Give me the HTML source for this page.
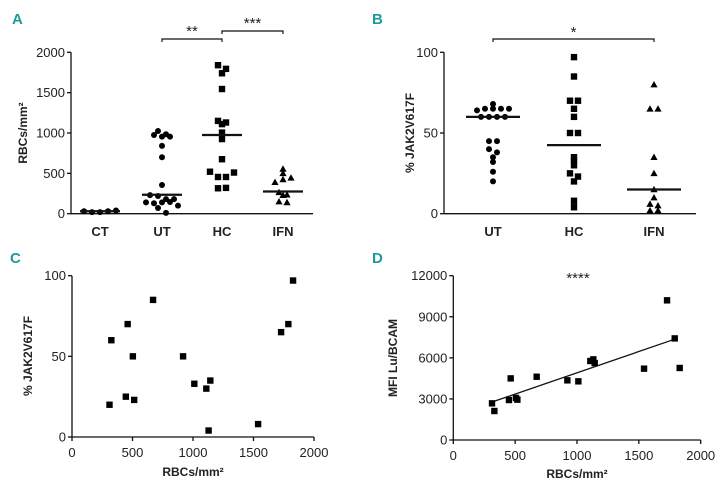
<!DOCTYPE html>
<html><head><meta charset="utf-8"><style>
html,body{margin:0;padding:0;background:#fff;}
svg{display:block;font-family:"Liberation Sans",sans-serif;}
.tick{font-size:13px;fill:#222;}
.cat{font-size:13px;font-weight:bold;fill:#222;}
.ttl{font-size:12px;font-weight:bold;fill:#222;}
.plab{font-size:15px;font-weight:bold;fill:#1f9a9a;font-family:"Liberation Sans Narrow","Liberation Sans",sans-serif;}
.star{font-size:15px;fill:#222;}
</style></head><body>
<svg id="fig" width="722" height="487" viewBox="0 0 722 487"></svg>
<script>
// Panel A data
const aCats=["CT","UT","HC","IFN"];
const aCT=[30,20,20,30,40];
const aUT=[1025,975,955,955,985,840,700,355,230,220,180,180,140,130,140,145,100,70,10];
const aHC=[1840,1795,1740,1545,1150,1110,1130,1005,925,675,520,455,455,510,315,320];
const aIFN=[555,500,390,425,445,265,235,230,150,140];
const aMeans=[30,235,975,275];
const aTicks=[0,500,1000,1500,2000];
// Panel B data
const bCats=["UT","HC","IFN"];
const bUT=[68,64,65,65,65,65,60,60,60,60,45,45,40,38,35,32,26,20];
const bHC=[97,85,70,70,65,60,50,50,35,33,30,25,23,20,8,4];
const bIFN=[80,65,65,35,25,15,10,6,5,2,2];
const bMeans=[60,42.5,15];
const bTicks=[0,50,100];
// Panel C/D data
const rbc=[310,325,445,460,503,514,670,918,1011,1110,1129,1143,1538,1728,1788,1827];
const jak=[20,60,25,70,50,23,85,50,33,30,4,35,8,65,70,97];
const dRbc=[313,332,450,464,507,518,674,922,1011,1108,1132,1143,1542,1728,1790,1830];
const dMfi=[2677,2118,2920,4500,3070,2945,4620,4357,4284,5770,5890,5620,5210,10200,7420,5260];
const xTicks=[0,500,1000,1500,2000];
const cTicks=[0,50,100];
const dTicks=[0,3000,6000,9000,12000];

const svg=document.getElementById('fig');
const NS='http://www.w3.org/2000/svg';
function mk(tag,at,parent){const e=document.createElementNS(NS,tag);for(const k in at)e.setAttribute(k,at[k]);(parent||svg).appendChild(e);return e;}
function txt(s,x,y,cls,anchor,parent){const t=mk('text',{x:x,y:y,class:cls,'text-anchor':anchor||'middle'},parent);t.textContent=s;return t;}
function lin(x1,y1,x2,y2,w,parent){return mk('line',{x1:x1,y1:y1,x2:x2,y2:y2,stroke:'#111','stroke-width':w||1.3},parent);}
function marker(shape,x,y,parent){
  if(shape==='c')return mk('circle',{cx:x,cy:y,r:3,fill:'#000'},parent);
  if(shape==='s')return mk('rect',{x:x-3.2,y:y-3.2,width:6.4,height:6.4,fill:'#000'},parent);
  return mk('polygon',{points:`${x},${y-3.6} ${x+3.6},${y+2.8} ${x-3.6},${y+2.8}`,fill:'#000'},parent);
}
function yAxis(g,x,sy,ticks,x2){
  lin(x,sy(ticks[0]),x,sy(ticks[ticks.length-1]),1.3,g);
  lin(x,sy(ticks[0]),x2,sy(ticks[0]),1.3,g);
  ticks.forEach(t=>{const y=sy(t);lin(x-4,y,x,y,1.3,g);
    const l=txt(String(t),x-6,y+4.5,'tick','end',g);
    
    });
}
function spread(vals,cx,sy,shape,g,name){
  // jitter: markers at same height spread horizontally
  const seen={};
  vals.forEach(v=>{const k=Math.round(sy(v)/6);seen[k]=(seen[k]||0)+1;});
  const cnt={};
  vals.forEach(v=>{const k=Math.round(sy(v)/6);const n=seen[k];cnt[k]=(cnt[k]||0);
    const off=(cnt[k]-(n-1)/2)*8;cnt[k]++;
    const m=marker(shape,cx+off,sy(v),g);
    
    });
}

// ---------- Panel A ----------
{
const g=mk('g',{});


const sy=v=>213.7-v*(161.4/2000);
const cx=[100,162,222,283];
const pl=txt('A',12,24,'plab','start',g);

yAxis(g,71,sy,aTicks,313);
aCats.forEach((c,i)=>{const t=txt(c,cx[i],236,'cat','middle',g);
  });
const yt=txt('RBCs/mm²',0,0,'ttl','middle',g);
yt.setAttribute('transform','translate(27,133) rotate(-90)');

spread(aCT,cx[0],sy,'c',g,'ct-point');
spread(aUT,cx[1],sy,'c',g,'ut-point');
spread(aHC,cx[2],sy,'s',g,'hc-point');
spread(aIFN,cx[3],sy,'t',g,'ifn-point');
aMeans.forEach((m,i)=>{const l=lin(cx[i]-20,sy(m),cx[i]+20,sy(m),2.2,g);
  });
// brackets
const b1=mk('path',{d:`M${cx[1]},42 V39 H${cx[2]} V42`,fill:'none',stroke:'#111','stroke-width':1.2},g);

txt('**',(cx[1]+cx[2])/2,36,'star','middle',g);
const b2=mk('path',{d:`M${cx[2]},34 V31 H${cx[3]} V34`,fill:'none',stroke:'#111','stroke-width':1.2},g);

txt('***',(cx[2]+cx[3])/2,28,'star','middle',g);
}

// ---------- Panel B ----------
{
const g=mk('g',{});


const sy=v=>213.7-v*1.614;
const cx=[493,574,654];
const pl=txt('B',372,24,'plab','start',g);

yAxis(g,444,sy,bTicks,696);
bCats.forEach((c,i)=>{const t=txt(c,cx[i],236,'cat','middle',g);
  });
const yt=txt('% JAK2V617F',0,0,'ttl','middle',g);
yt.setAttribute('transform','translate(414,133) rotate(-90)');

spread(bUT,cx[0],sy,'c',g,'ut-point');
spread(bHC,cx[1],sy,'s',g,'hc-point');
spread(bIFN,cx[2],sy,'t',g,'ifn-point');
bMeans.forEach((m,i)=>{const l=lin(cx[i]-27,sy(m),cx[i]+27,sy(m),2.2,g);
  });
const b1=mk('path',{d:`M${cx[0]},42 V39 H${cx[2]} V42`,fill:'none',stroke:'#111','stroke-width':1.2},g);

txt('*',(cx[0]+cx[2])/2,37,'star','middle',g);
}

// ---------- Panel C ----------
{
const g=mk('g',{});


const sx=v=>72+v*(242/2000);
const sy=v=>437-v*1.613;
const pl=txt('C',10,263,'plab','start',g);

yAxis(g,72,sy,cTicks,314);
xTicks.forEach(t=>{lin(sx(t),437,sx(t),441,1.3,g);
  const l=txt(String(t),sx(t),457,'tick','middle',g);
  });
const xt=txt('RBCs/mm²',193,476,'ttl','middle',g);

const yt=txt('% JAK2V617F',0,0,'ttl','middle',g);
yt.setAttribute('transform','translate(32,356) rotate(-90)');

rbc.forEach((v,i)=>{const m=marker('s',sx(v),sy(jak[i]),g);
  });
}

// ---------- Panel D ----------
{
const g=mk('g',{});


const sx=v=>453.3+v*(247.4/2000);
const sy=v=>440-v*(164.3/12000);
const pl=txt('D',372,263,'plab','start',g);

yAxis(g,453.3,sy,dTicks,700.7);
xTicks.forEach(t=>{lin(sx(t),440,sx(t),444,1.3,g);
  const l=txt(String(t),sx(t),460,'tick','middle',g);
  });
const xt=txt('RBCs/mm²',577,478,'ttl','middle',g);

const yt=txt('MFI Lu/BCAM',0,0,'ttl','middle',g);
yt.setAttribute('transform','translate(397,358) rotate(-90)');

txt('****',578,283,'star','middle',g);
// regression line
const n=dRbc.length;let mx=0,my=0;dRbc.forEach((v,i)=>{mx+=v;my+=dMfi[i];});mx/=n;my/=n;
let sxy=0,sxx=0;dRbc.forEach((v,i)=>{sxy+=(v-mx)*(dMfi[i]-my);sxx+=(v-mx)*(v-mx);});
const b=sxy/sxx,a=my-b*mx;
const x0=Math.min(...dRbc),x1=Math.max(...dRbc.slice(0,n).filter(v=>v<1800));
const rl=lin(sx(x0),sy(a+b*x0),sx(1790),sy(a+b*1790),1.3,g);

dRbc.forEach((v,i)=>{const m=marker('s',sx(v),sy(dMfi[i]),g);
  });
}
</script>
</body></html>
